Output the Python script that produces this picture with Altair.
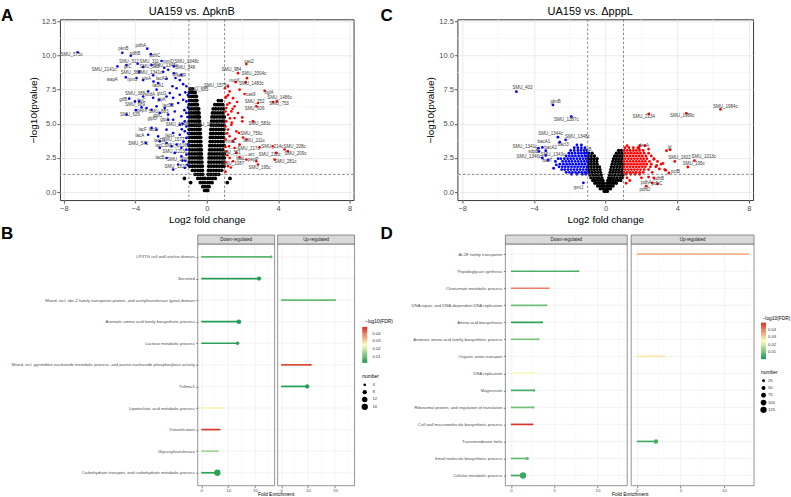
import altair as alt
import pandas as pd

FONT = "Liberation Sans"

# ====================== Panel A : UA159 vs. ΔpknB ======================
A_TITLE = "UA159 vs. \u0394pknB"
A_BLUE = [
    (-7.23, 10.24), (-4.73, 10.2), (-4.25, 9.98), (-3.33, 10.5), (-3.13, 10.1), (-2.53, 9.6),
    (-5.0, 9.2), (-4.5, 9.3), (-3.87, 9.4), (-3.56, 9.15), (-3.09, 9.3), (-2.38, 9.1), (-1.84, 9.2),
    (-2.16, 8.95), (-2.44, 8.8), (-4.53, 8.4), (-3.93, 8.35), (-3.78, 8.8), (-3.56, 8.2), (-3.0, 8.55),
    (-2.98, 8.1), (-2.72, 7.98), (-2.25, 8.3), (-1.84, 8.7), (-1.75, 8.35), (-1.42, 8.6), (-1.51, 8.2),
    (-1.32, 7.9), (-1.14, 7.75), (-1.92, 7.75), (-1.69, 7.6), (-2.07, 7.25), (-2.81, 7.5), (-3.28, 7.37),
    (-3.56, 7.0), (-4.02, 6.64), (-4.34, 6.84), (-3.78, 6.64), (-3.0, 6.9), (-2.66, 6.76), (-2.25, 7.0),
    (-1.88, 6.9), (-1.51, 7.13), (-1.32, 6.76), (-1.14, 6.64), (-1.6, 6.52), (-1.97, 6.4), (-2.35, 6.15),
    (-2.81, 6.28), (-3.09, 6.03), (-3.37, 6.15), (-3.65, 6.2), (-3.97, 6.0), (-4.49, 5.67), (-2.63, 5.8),
    (-2.16, 5.67), (-1.79, 5.9), (-1.42, 5.55), (-1.14, 5.8), (-1.88, 5.3), (-1.23, 5.18), (-1.51, 4.94),
    (-1.14, 4.8), (-2.16, 5.3), (-3.09, 4.7), (-2.81, 4.57), (-2.25, 4.57), (-3.28, 4.2), (-2.72, 4.08),
    (-1.88, 4.33), (-1.51, 4.2), (-1.23, 4.45), (-1.14, 3.97), (-3.41, 3.6), (-2.63, 3.72), (-2.25, 3.6),
    (-1.97, 3.35), (-1.69, 3.48), (-1.42, 3.24), (-1.14, 3.11), (-2.63, 3.24), (-1.79, 2.87), (-1.42, 2.63),
    (-1.14, 2.75), (-2.25, 2.5), (-1.36, 2.31), (-1.6, 2.02), (-1.23, 1.78), (-1.88, 1.65),
    (-1.05, 6.2), (-1.25, 6.0), (-1.08, 5.5), (-1.35, 5.0), (-1.05, 4.3), (-1.3, 3.7), (-1.05, 3.5),
    (-1.2, 2.3), (-1.08, 2.0), (-1.4, 4.6), (-1.06, 7.1), (-1.2, 7.3),
]
A_RED = [
    (2.22, 9.37), (1.75, 8.71), (2.25, 8.34), (1.62, 8.05), (2.18, 8.05), (1.19, 7.74), (1.02, 7.6),
    (1.84, 7.5), (3.24, 7.42), (2.12, 7.18), (1.28, 7.37), (1.1, 7.0), (1.47, 6.88), (3.93, 6.64),
    (3.7, 6.6), (2.87, 6.52), (2.78, 6.28), (1.28, 6.52), (1.56, 6.28), (1.1, 6.15), (1.38, 5.91),
    (1.75, 5.79), (1.19, 5.67), (1.56, 5.42), (1.99, 5.47), (1.99, 5.18), (2.59, 5.18), (1.1, 5.18),
    (1.38, 4.94), (1.19, 4.58), (1.66, 4.45), (1.8, 4.33), (1.28, 4.09), (2.03, 4.0), (1.06, 3.85),
    (2.22, 3.85), (1.47, 3.72), (1.84, 3.48), (1.25, 3.36), (1.56, 3.23), (2.96, 3.28), (3.7, 3.36),
    (4.36, 3.12), (4.54, 2.99), (1.1, 2.99), (1.66, 2.87), (3.89, 2.87), (1.84, 2.55), (1.28, 2.5),
    (2.22, 2.38), (3.8, 2.38), (1.47, 2.26), (2.78, 2.26), (2.87, 2.02), (1.19, 1.9), (1.05, 1.5),
    (1.05, 6.9), (1.15, 6.4), (1.05, 5.9), (1.3, 5.4), (1.05, 4.8), (1.15, 4.3), (1.4, 5.1),
    (1.05, 3.3), (1.15, 2.7), (1.05, 2.2), (1.35, 1.8), (1.6, 3.9), (1.45, 6.1), (1.2, 7.1), (1.7, 6.6),
]
# black (non-significant) points, one row per -log10(p) level: (y, [x, ...])
A_BLACK_ROWS = [
    (0.12, [-0.12, -0.03, 0.06]),
    (0.4, [-0.22, -0.1, 0.02, 0.13]),
    (0.7, [-0.36, -0.23, -0.11, 0.05, 0.17, 0.3, -0.9, 1.15]),
    (1.0, [-0.5, -0.36, -0.22, -0.1, 0.07, 0.2, 0.34, 0.48, -1.25, 1.3]),
    (1.3, [-0.65, -0.5, -0.36, -0.22, 0.08, 0.22, 0.37, 0.52, 0.67]),
    (1.6, [-0.8, -0.65, -0.5, -0.36, -0.24, 0.1, 0.24, 0.39, 0.54, 0.69, 0.84]),
    (1.9, [-0.95, -0.8, -0.65, -0.5, -0.37, -0.25, 0.11, 0.25, 0.4, 0.55, 0.7, 0.85, 0.97]),
    (2.2, [-0.98, -0.83, -0.68, -0.53, -0.4, -0.27, 0.12, 0.26, 0.41, 0.56, 0.71, 0.86, 0.98]),
    (2.5, [-0.97, -0.82, -0.67, -0.52, -0.4, -0.28, 0.13, 0.27, 0.42, 0.57, 0.72, 0.87, 0.98]),
    (2.8, [-0.98, -0.83, -0.68, -0.54, -0.41, -0.3, 0.14, 0.28, 0.43, 0.58, 0.73, 0.88, 0.98]),
    (3.1, [-0.96, -0.81, -0.66, -0.52, -0.4, -0.3, 0.16, 0.3, 0.45, 0.6, 0.75, 0.9]),
    (3.4, [-0.98, -0.83, -0.68, -0.54, -0.42, -0.32, 0.17, 0.31, 0.46, 0.61, 0.76, 0.91, 0.98]),
    (3.7, [-0.97, -0.82, -0.67, -0.53, -0.42, -0.33, 0.19, 0.33, 0.48, 0.63, 0.78, 0.93]),
    (4.0, [-0.98, -0.83, -0.69, -0.55, -0.44, -0.34, 0.2, 0.34, 0.49, 0.64, 0.79, 0.94]),
    (4.3, [-0.97, -0.82, -0.68, -0.55, -0.44, -0.36, 0.22, 0.36, 0.51, 0.66, 0.81, 0.96]),
    (4.6, [-0.98, -0.84, -0.7, -0.57, -0.46, -0.37, 0.23, 0.37, 0.52, 0.67, 0.82, 0.96]),
    (4.9, [-0.97, -0.83, -0.69, -0.57, -0.46, -0.38, 0.25, 0.39, 0.54, 0.69, 0.84, 0.97]),
    (5.2, [-0.98, -0.84, -0.71, -0.59, -0.48, -0.4, 0.27, 0.41, 0.56, 0.71, 0.86, 0.97]),
    (5.5, [-0.97, -0.83, -0.7, -0.58, -0.48, -0.41, 0.29, 0.43, 0.58, 0.73, 0.88, 0.98]),
    (5.8, [-0.98, -0.85, -0.72, -0.6, -0.5, -0.43, 0.32, 0.46, 0.61, 0.76, 0.91]),
    (6.1, [-0.97, -0.84, -0.71, -0.6, -0.5, -0.45, 0.36, 0.5, 0.65, 0.8, 0.94]),
    (6.4, [-0.98, -0.85, -0.73, -0.62, -0.52, 0.45, 0.6, 0.75, 0.9]),
    (6.7, [-0.97, -0.84, -0.72, -0.62, -0.55, 0.65, 0.82]),
    (7.0, [-0.98, -0.86, -0.75, -0.65, -0.58]),
    (7.3, [-0.97, -0.85, -0.74, -0.65]),
    (7.55, [-0.93, -0.8]),
]
A_LABELS = [
    ("SMU_575c", -7.56, 10.0), ("pknB", -4.67, 10.49), ("pdhA", -3.69, 10.73), ("pdhB", -4.02, 10.12),
    ("pdhC", -2.9, 9.93), ("SMU_312", -4.36, 9.56), ("SMU_311", -3.22, 9.56), ("rpmD", -2.16, 9.51),
    ("SMU_1348c", -1.13, 9.56), ("SMU_2141c", -5.74, 8.96), ("glfC", -4.43, 9.15), ("SMU_313", -3.2, 9.15),
    ("SMU_1345c", -2.3, 9.2), ("SMU_348", -1.22, 9.1), ("SMU_367", -4.25, 8.71), ("SMU_1341c", -3.18, 8.71),
    ("wapA", -5.29, 8.22), ("rpmJ", -4.17, 8.18), ("ptsA", -3.37, 8.27), ("lacA2", -2.53, 8.3),
    ("pfl", -1.79, 8.59), ("lacR", -1.41, 8.47), ("lacA1", -2.72, 7.74), ("SMU_388", -4.02, 7.2),
    ("sodA", -3.18, 7.13), ("gtcG", -2.53, 7.18), ("gtfB", -4.67, 6.76), ("fruC", -3.65, 6.64),
    ("glpK", -2.53, 6.76), ("SMU_689", -4.02, 6.4), ("lacD2", -2.16, 6.33), ("pepX", -3.62, 5.96),
    ("SMU_883", -2.7, 5.84), ("SMU_626", -4.3, 5.62), ("glpO", -3.05, 5.38), ("glpA", -2.35, 5.28),
    ("glpC", -2.75, 5.55), ("SMU_1948c", -1.6, 4.89), ("SMU_1611c", -0.02, 4.89), ("lacF", -3.59, 4.53),
    ("lacE", -3.0, 4.53), ("lacA", -3.74, 4.14), ("lacG", -2.07, 4.14), ("SMU_571", -3.84, 3.53),
    ("lacD1", -2.63, 3.72), ("SMU_1577", -1.88, 3.85), ("lacC", -2.63, 3.41), ("SMU_1616c", -1.69, 3.41),
    ("SMU_1213c", -1.79, 2.94), ("lacB", -2.63, 2.5), ("SMU_2007", -1.6, 2.38), ("SMU_1821", -1.73, 1.82),
    ("SMU_685", -0.48, 7.49), ("SMU_1575c", 0.54, 7.74),
    ("cas2", 2.36, 9.49), ("SMU_984", 1.38, 8.96), ("SMU_2004c", 2.64, 8.64), ("nuoX", 1.56, 8.15),
    ("SMU_1483c", 2.5, 7.93), ("bglA", 3.48, 7.25), ("cas9", 2.46, 7.13), ("SMU_1486c", 4.08, 6.88),
    ("SMU_752", 2.68, 6.57), ("SMU_753", 4.04, 6.45), ("SMU_606", 2.68, 6.11), ("SMU_583c", 2.96, 4.99),
    ("SMU_756c", 2.5, 4.26), ("SMU_211c", 2.64, 3.77), ("SMU_217c", 2.35, 3.19), ("SMU_214c", 3.67, 3.31),
    ("SMU_208c", 4.92, 3.31), ("SMU_218c", 3.52, 2.75), ("SMU_209c", 4.97, 2.8), ("SMU_281c", 4.41, 2.19),
    ("SMU_195c", 2.96, 1.77), ("SMU_1087", 1.47, 2.07), ("pepP", 2.59, 2.38), ("fpaL", 1.9, 2.46),
    ("arc", 2.5, 2.7), ("nrdE", 1.34, 3.67), ("SMU_391", 1.34, 2.87),
]
A_LEADERS = [
    (-0.62, 7.72, 0.12, 7.72), (-1.14, 7.75, -0.8, 7.52), (1.25, 3.2, 1.8, 3.2),
    (1.5, 2.7, 2.32, 2.7), (1.3, 2.9, 1.05, 2.88), (-3.41, 3.6, -3.6, 3.55),
]

# ====================== Panel C : UA159 vs. ΔpppL ======================
C_TITLE = "UA159 vs. \u0394pppL"
C_BLUE = [
    (-4.98, 7.35), (-2.94, 6.38), (-1.91, 5.53), (-2.66, 4.02), (-2.23, 3.83), (-2.56, 3.66),
    (-3.53, 3.27), (-3.34, 3.03), (-3.75, 3.22), (-3.72, 2.98), (-3.34, 2.69), (-3.53, 2.5),
    (-3.2, 2.35), (-1.17, 2.86), (-1.24, 0.68), (-2.75, 2.0), (-2.9, 1.75), (-2.65, 2.45), (-2.8, 2.25),
]
C_BLUE_ROWS = [
    (3.45, [-1.6, -1.35]),
    (3.25, [-1.75, -1.55, -1.35, -1.15]),
    (3.05, [-1.95, -1.75, -1.55, -1.38, -1.2, -1.05]),
    (2.85, [-2.05, -1.88, -1.7, -1.52, -1.35, -1.18, -1.03]),
    (2.65, [-2.2, -2.02, -1.85, -1.68, -1.5, -1.33, -1.16, -1.02]),
    (2.45, [-2.5, -2.3, -2.12, -1.95, -1.78, -1.6, -1.43, -1.26, -1.1]),
    (2.25, [-2.4, -2.22, -2.05, -1.88, -1.7, -1.53, -1.36, -1.19, -1.03]),
    (2.05, [-2.55, -2.35, -2.17, -2.0, -1.83, -1.65, -1.48, -1.31, -1.14]),
    (1.85, [-2.6, -2.42, -2.25, -2.08, -1.9, -1.73, -1.56, -1.39, -1.22, -1.05]),
    (1.65, [-2.45, -2.28, -2.1, -1.93, -1.76, -1.59, -1.42, -1.25, -1.08]),
    (1.45, [-2.2, -2.02, -1.85, -1.68, -1.5, -1.33, -1.16, -1.02]),
    (1.3, [-1.9, -1.6, -1.3, -1.1]),
]
C_RED = [
    (2.41, 5.72), (4.51, 5.77), (6.41, 6.06), (1.86, 3.22), (3.4, 3.03), (3.6, 3.1), (3.86, 2.25),
    (4.96, 2.3), (4.59, 1.84), (3.53, 1.4), (2.69, 1.04), (2.6, 0.68), (2.9, 0.6), (2.27, 0.44),
    (2.85, 1.95), (3.0, 1.7), (3.2, 2.1), (3.35, 1.6), (2.7, 2.4), (2.2, 3.4), (2.4, 3.15),
    (1.2, 1.05), (1.35, 0.85), (1.15, 0.65), (2.0, 1.05), (2.4, 1.1),
]
C_RED_ROWS = [
    (3.4, [1.2, 1.9]),
    (3.25, [1.08, 1.3, 1.55, 1.8]),
    (3.05, [1.03, 1.2, 1.37, 1.55, 1.72, 1.9, 2.1]),
    (2.85, [1.1, 1.27, 1.44, 1.61, 1.78, 1.95, 2.15, 2.4]),
    (2.65, [1.03, 1.2, 1.37, 1.54, 1.71, 1.88, 2.05, 2.25, 2.55]),
    (2.45, [1.1, 1.27, 1.44, 1.61, 1.78, 1.95, 2.12, 2.3, 2.7]),
    (2.25, [1.03, 1.2, 1.37, 1.54, 1.71, 1.88, 2.05, 2.22, 2.45, 2.9]),
    (2.05, [1.1, 1.27, 1.44, 1.61, 1.78, 1.95, 2.12, 2.3, 2.55, 3.1]),
    (1.85, [1.03, 1.2, 1.37, 1.54, 1.71, 1.88, 2.05, 2.22, 2.5, 2.8]),
    (1.65, [1.1, 1.27, 1.44, 1.61, 1.78, 1.95, 2.15, 2.4, 3.3]),
    (1.45, [1.03, 1.2, 1.37, 1.54, 1.71, 1.9, 2.1, 2.6]),
    (1.3, [1.15, 1.4, 1.65, 1.9]),
]
C_BLACK_ROWS = [
    (0.05, [-0.08, 0.02, 0.1]),
    (0.25, [-0.3, -0.18, -0.06, 0.06, 0.18, 0.28]),
    (0.45, [-0.45, -0.33, -0.2, -0.08, 0.06, 0.18, 0.3, 0.42]),
    (0.65, [-0.6, -0.46, -0.33, -0.2, -0.08, 0.08, 0.2, 0.33, 0.46, 0.6]),
    (0.85, [-0.72, -0.57, -0.42, -0.28, -0.14, 0.12, 0.26, 0.4, 0.55, 0.7, 0.85]),
    (1.05, [-0.82, -0.66, -0.5, -0.35, -0.2, 0.17, 0.32, 0.47, 0.63, 0.8, 0.95]),
    (1.25, [-0.88, -0.72, -0.56, -0.4, -0.24, 0.21, 0.36, 0.52, 0.68, 0.84, 0.97]),
    (1.45, [-0.92, -0.76, -0.6, -0.44, -0.28, 0.25, 0.4, 0.56, 0.72, 0.88, 0.98]),
    (1.65, [-0.95, -0.79, -0.63, -0.47, -0.31, 0.28, 0.44, 0.6, 0.76, 0.92]),
    (1.85, [-0.97, -0.81, -0.65, -0.49, -0.34, 0.32, 0.48, 0.64, 0.8, 0.96]),
    (2.05, [-0.95, -0.79, -0.63, -0.47, 0.36, 0.52, 0.68, 0.84, 0.98]),
    (2.25, [-0.97, -0.81, -0.65, -0.49, 0.4, 0.56, 0.72, 0.88]),
    (2.45, [-0.95, -0.79, -0.63, -0.47, 0.44, 0.6, 0.76, 0.92]),
    (2.65, [-0.97, -0.8, -0.62, 0.5, 0.66, 0.82, 0.96]),
    (2.85, [-0.93, -0.75, 0.6, 0.76, 0.92]),
    (3.05, [0.72, 0.88]),
]
C_LABELS = [
    ("SMU_403", -4.64, 7.59), ("pknB", -2.79, 6.62), ("SMU_1387c", -2.19, 5.29), ("SMU_1344c", -3.07, 4.24),
    ("SMU_1348c", -1.58, 4.02), ("bacI3", -2.36, 3.47), ("bacA1", -3.44, 3.66), ("bacA2", -3.07, 3.22),
    ("SMU_1341c", -4.5, 3.32), ("sdpB", -4.03, 2.93), ("SMU_1343c", -2.94, 2.74), ("SMU_1346c", -4.28, 2.55),
    ("bacT", -3.25, 2.31), ("sacB", -1.06, 3.11), ("rpmJ", -1.52, 0.27),
    ("SMU_2134", 2.13, 5.48), ("SMU_1989c", 4.28, 5.58), ("SMU_1984c", 6.69, 6.25), ("dexA", 2.13, 3.35),
    ("lrf", 3.57, 3.22), ("SMU_1602", 4.12, 2.49), ("SMU_1013c", 5.48, 2.55), ("SMU_195c", 4.92, 2.06),
    ("pcfB", 3.9, 1.48), ("pdhB", 2.97, 0.97), ("pdhA", 2.27, 0.68), ("pdhC", 2.88, 0.56), ("pdhD", 2.19, 0.15),
]
C_LEADERS = [(-3.75, 3.22, -3.95, 3.3), (-2.23, 3.83, -1.95, 3.95)]

X_TICKS = [-8, -4, 0, 4, 8]
X_MINOR = [-6, -2, 2, 6]
Y_TICKS = [0, 2.5, 5, 7.5, 10, 12.5]
Y_MINOR = [1.25, 3.75, 6.25, 8.75, 11.25]
FC_CUT = [-1, 1]
P_CUT = [1.30103]

# ====================== Panel B : enrichment (ΔpknB) ======================
B_CATS = [
    "LPXTG cell wall anchor domain",
    "Secreted",
    "Mixed, incl. abc-2 family transporter protein, and acetyltransferase (gnat) domain",
    "Aromatic amino acid family biosynthetic process",
    "Lactose metabolic process",
    "Mixed, incl. pyrimidine nucleoside metabolic process, and purine-nucleoside phosphorylase activity",
    "TnSmu1",
    "Lipoteichoic acid metabolic process",
    "Detoxification",
    "Glycosyltransferase",
    "Carbohydrate transport, and carbohydrate metabolic process",
]
B_DOWN_TERMS = [B_CATS[0], B_CATS[1], B_CATS[3], B_CATS[4], B_CATS[7], B_CATS[8], B_CATS[9], B_CATS[10]]
B_DOWN_FE = [26.0, 21.5, 14.0, 13.5, 8.5, 7.0, 6.0, 6.0]
B_DOWN_FDR = [0.009, 0.003, 0.003, 0.004, 0.027, 0.048, 0.016, 0.004]
B_DOWN_N = [4, 8, 9, 6, 2, 2, 3, 16]
B_UP_TERMS = [B_CATS[2], B_CATS[5], B_CATS[6]]
B_UP_FE = [20.0, 11.0, 9.7]
B_UP_FDR = [0.010, 0.046, 0.003]
B_UP_N = [3, 3, 8]

# ====================== Panel D : enrichment (ΔpppL) ======================
D_CATS = [
    "AI-2E family transporter",
    "Peptidoglycan synthesis",
    "Chorismate metabolic process",
    "DNA repair, and DNA-dependent DNA replication",
    "Amino-acid biosynthesis",
    "Aromatic amino acid family biosynthetic process",
    "Organic anion transport",
    "DNA replication",
    "Magnesium",
    "Ribosomal protein, and regulation of translation",
    "Cell wall macromolecule biosynthetic process",
    "Transmembrane helix",
    "Small molecule biosynthetic process",
    "Cellular metabolic process",
]
D_DOWN_TERMS = [D_CATS[1], D_CATS[2], D_CATS[3], D_CATS[4], D_CATS[5], D_CATS[7], D_CATS[8],
                D_CATS[9], D_CATS[10], D_CATS[12], D_CATS[13]]
D_DOWN_FE = [7.8, 4.4, 4.1, 3.6, 3.2, 2.8, 2.7, 2.6, 2.5, 1.9, 1.4]
D_DOWN_FDR = [0.006, 0.040, 0.010, 0.003, 0.011, 0.026, 0.005, 0.010, 0.049, 0.008, 0.004]
D_DOWN_N = [8, 5, 10, 12, 10, 5, 11, 12, 6, 30, 125]
D_UP_TERMS = [D_CATS[0], D_CATS[6], D_CATS[11]]
D_UP_FE = [12.8, 3.2, 2.2]
D_UP_FDR = [0.034, 0.028, 0.005]
D_UP_N = [4, 4, 60]

FDR_TICKS = [0.01, 0.02, 0.03, 0.04]
B_NUM_TICKS = [4, 8, 12, 16]
D_NUM_TICKS = [25, 50, 75, 100, 125]
GRAD_COLORS = ["#1a9850", "#ffffbf", "#d73027"]
B_FDR_DOMAIN = [0.002, 0.0255, 0.049]
D_FDR_DOMAIN = [0.0005, 0.025, 0.0495]


def rows_to_df(rows):
    return pd.DataFrame([(x, y) for y, xs in rows for x in xs], columns=["x", "y"])


def pts_df(pts):
    return pd.DataFrame(pts, columns=["x", "y"])


def one(text):
    return pd.DataFrame({"t": [text]})


def free_text(text, x, y, size, weight="normal", align="center", baseline="middle", color="#000000"):
    return alt.Chart(one(text)).mark_text(fontSize=size, fontWeight=weight, align=align,
                                          baseline=baseline, color=color).encode(
        x=alt.value(x), y=alt.value(y), text="t:N")


def volcano(black, blue, red, labels, leaders, title, letter, xdom, ydom, w, h,
            title_x, letter_x, black_size, col_size, anchor):
    xsc = alt.Scale(domain=xdom, nice=False, zero=False)
    ysc = alt.Scale(domain=ydom, nice=False, zero=False)
    common = dict(grid=True, gridColor="#e6e6e6", gridWidth=0.8, domain=False,
                  tickColor="#333333", tickSize=3, tickWidth=0.8, labelFontSize=7.5,
                  labelColor="#4d4d4d", titleFontSize=10, titleFontWeight="normal",
                  titleColor="#000000")
    xax = alt.Axis(values=X_TICKS, format="d", title="Log2 fold change", labelPadding=1,
                   titlePadding=3, **common)
    yax = alt.Axis(values=Y_TICKS, format=".1f", title="\u2212log10(pvalue)", labelPadding=1,
                   titlePadding=3, **common)

    def X(f):
        return alt.X(f"{f}:Q", scale=xsc, axis=xax)

    def Y(f):
        return alt.Y(f"{f}:Q", scale=ysc, axis=yax)

    layers = [
        alt.Chart(pd.DataFrame({"x": X_MINOR})).mark_rule(color="#f3f3f3", strokeWidth=0.6).encode(x=X("x")),
        alt.Chart(pd.DataFrame({"y": Y_MINOR})).mark_rule(color="#f3f3f3", strokeWidth=0.6).encode(y=Y("y")),
        alt.Chart(black).mark_circle(color="#000000", size=black_size, opacity=1).encode(x=X("x"), y=Y("y")),
        alt.Chart(blue).mark_circle(color="#0000ff", size=col_size, opacity=1).encode(x=X("x"), y=Y("y")),
        alt.Chart(red).mark_circle(color="#ff0000", size=col_size, opacity=1).encode(x=X("x"), y=Y("y")),
        alt.Chart(pd.DataFrame({"x": FC_CUT})).mark_rule(
            color="#555555", strokeDash=[2.5, 2], strokeWidth=0.7).encode(x=X("x")),
        alt.Chart(pd.DataFrame({"y": P_CUT})).mark_rule(
            color="#555555", strokeDash=[2.5, 2], strokeWidth=0.7).encode(y=Y("y")),
        alt.Chart(leaders).mark_rule(color="#666666", strokeWidth=0.4).encode(
            x=X("x1"), y=Y("y1"), x2="x2:Q", y2="y2:Q"),
        alt.Chart(labels).mark_text(fontSize=4.5, color="#3a3a3a").encode(
            x=X("lx"), y=Y("ly"), text="name:N"),
        free_text(title, title_x, -4, 11, "normal", "center", "alphabetic"),
        free_text(letter, letter_x, 2, 17, "bold", "left", "alphabetic"),
    ]
    if anchor:
        layers.append(alt.Chart(one("")).mark_rect(opacity=0).encode(
            x=alt.value(-59), x2=alt.value(-58), y=alt.value(-18), y2=alt.value(-17)))
    return alt.layer(*layers).properties(
        width=w, height=h, view=alt.ViewBackground(fill="white", stroke="#3a3a3a", strokeWidth=1))


def legend_layers(fdr_dom, sscale, grad_x, grad_top, grad_len, title_y, lab_x,
                  num_title_y, num_x, num_vals, num_top, num_bottom, right_edge):
    """Colour-bar and size key drawn with marks; positions come from their own scales."""
    grad = alt.LinearGradient(
        gradient="linear", x1=0, x2=0, y1=0, y2=1,
        stops=[alt.GradientStop(offset=0, color=GRAD_COLORS[2]),
               alt.GradientStop(offset=0.5, color=GRAD_COLORS[1]),
               alt.GradientStop(offset=1, color=GRAD_COLORS[0])])
    bar = alt.Chart(one("bar")).mark_rect(fill=grad, strokeWidth=0).encode(
        x=alt.value(grad_x), x2=alt.value(grad_x + 5),
        y=alt.value(grad_top), y2=alt.value(grad_top + grad_len))
    fy = alt.Scale(domain=[fdr_dom[0], fdr_dom[-1]], range=[grad_top + grad_len, grad_top],
                   nice=False, zero=False)
    fdf = pd.DataFrame({"v": FDR_TICKS})
    flab = alt.Chart(fdf).mark_text(fontSize=4.2, align="left", baseline="middle", color="#333333").encode(
        x=alt.value(lab_x), y=alt.Y("v:Q", scale=fy, axis=None), text=alt.Text("v:Q", format=".2f"))
    ftick_l = alt.Chart(fdf).mark_rule(color="white", strokeWidth=0.5).encode(
        x=alt.value(grad_x), x2=alt.value(grad_x + 1), y=alt.Y("v:Q", scale=fy, axis=None))
    ftick_r = alt.Chart(fdf).mark_rule(color="white", strokeWidth=0.5).encode(
        x=alt.value(grad_x + 4), x2=alt.value(grad_x + 5), y=alt.Y("v:Q", scale=fy, axis=None))
    ny = alt.Scale(domain=[num_vals[0], num_vals[-1]], range=[num_top, num_bottom], nice=False, zero=False)
    ndf = pd.DataFrame({"n": num_vals})
    ncirc = alt.Chart(ndf).mark_circle(color="#000000", opacity=1).encode(
        x=alt.value(num_x), y=alt.Y("n:Q", scale=ny, axis=None),
        size=alt.Size("n:Q", scale=sscale, legend=None))
    nlab = alt.Chart(ndf).mark_text(fontSize=4.2, align="left", baseline="middle", color="#333333").encode(
        x=alt.value(lab_x), y=alt.Y("n:Q", scale=ny, axis=None), text=alt.Text("n:Q", format="d"))
    ttl1 = free_text("\u2212log10(FDR)", right_edge, title_y, 4.9, "normal", "right", "alphabetic")
    ttl2 = free_text("number", grad_x, num_title_y, 4.9, "normal", "left", "alphabetic")
    return [bar, ftick_l, ftick_r, flab, ncirc, nlab, ttl1, ttl2]


def enrich(cats, down, up, w, h, d_range, u_range, xdom, xvals, xminor, axis_x,
           cscale, sscale, extras):
    ysc = alt.Scale(type="point", domain=cats, padding=0.6)
    yax_on = alt.Axis(title=None, offset=-axis_x, labelFontSize=4.2, labelColor="#4d4d4d",
                      labelPadding=1.5, tickSize=2, tickColor="#333333", tickWidth=0.6, grid=False,
                      domain=False, labelLimit=400)

    def panel(data, rng, strip, show_axis):
        terms, fe, fdr, num = data
        df = pd.DataFrame({"term": terms, "fe": fe, "fdr": fdr, "n": num})
        df["zero"] = 0.0
        Y = alt.Y("term:N", scale=ysc, axis=yax_on if show_axis else None)
        xsc = alt.Scale(domain=xdom, range=rng, nice=False, zero=False)
        xax = alt.Axis(title=None, values=xvals, format="d", orient="bottom", labelFontSize=4.4,
                       labelColor="#4d4d4d", tickSize=2, tickColor="#333333", tickWidth=0.6,
                       labelPadding=0.5, grid=True, gridColor="#ebebeb", gridWidth=0.6, domain=False)

        def X(f):
            return alt.X(f"{f}:Q", scale=xsc, axis=xax)

        color = alt.Color("fdr:Q", scale=cscale, legend=None)
        size = alt.Size("n:Q", scale=sscale, legend=None)
        frame = pd.DataFrame({"lo": [xdom[0]], "hi": [xdom[1]],
                              "mid": [(xdom[0] + xdom[1]) / 2], "t": [strip]})
        hgrid = pd.DataFrame({"term": cats, "lo": xdom[0], "hi": xdom[1]})
        return alt.layer(
            alt.Chart(pd.DataFrame({"fe": xminor})).mark_rule(color="#f5f5f5", strokeWidth=0.5).encode(x=X("fe")),
            alt.Chart(hgrid).mark_rule(color="#ebebeb", strokeWidth=0.6).encode(x=X("lo"), x2="hi:Q", y=Y),
            alt.Chart(df).mark_rule(strokeWidth=1.7).encode(x=X("zero"), x2="fe:Q", y=Y, color=color),
            alt.Chart(df).mark_circle(opacity=1).encode(x=X("fe"), y=Y, color=color, size=size),
            alt.Chart(frame).mark_rect(fill="transparent", stroke="#666666", strokeWidth=0.7).encode(
                x=X("lo"), x2="hi:Q", y=alt.value(0), y2=alt.value(h)),
            alt.Chart(frame).mark_rect(fill="#d9d9d9", stroke="#4d4d4d", strokeWidth=0.6).encode(
                x=X("lo"), x2="hi:Q", y=alt.value(-9), y2=alt.value(0)),
            alt.Chart(frame).mark_text(fontSize=4.5, color="#1a1a1a").encode(
                x=X("mid"), y=alt.value(-4.5), text="t:N"),
        )

    return alt.layer(panel(down, d_range, "Down-regulated", True),
                     panel(up, u_range, "Up-regulated", False),
                     *extras).resolve_scale(x="independent", y="independent").properties(
        width=w, height=h, view=alt.ViewBackground(fill="white", stroke="transparent"))


# ---------------- volcano panels ----------------
A = volcano(rows_to_df(A_BLACK_ROWS), pts_df(A_BLUE), pts_df(A_RED),
            pd.DataFrame(A_LABELS, columns=["name", "lx", "ly"]),
            pd.DataFrame(A_LEADERS, columns=["x1", "y1", "x2", "y2"]),
            A_TITLE, "A", [-8.22, 8.22], [-0.58, 12.65], 294, 181, 132, -59, 14, 7, True)
C = volcano(rows_to_df(C_BLACK_ROWS),
            pd.concat([pts_df(C_BLUE), rows_to_df(C_BLUE_ROWS)], ignore_index=True),
            pd.concat([pts_df(C_RED), rows_to_df(C_RED_ROWS)], ignore_index=True),
            pd.DataFrame(C_LABELS, columns=["name", "lx", "ly"]),
            pd.DataFrame(C_LEADERS, columns=["x1", "y1", "x2", "y2"]),
            C_TITLE, "C", [-8.27, 8.23], [-0.58, 12.65], 296, 181, 133, -77, 11, 8, False)

# ---------------- enrichment panels ----------------
B_sscale = alt.Scale(domain=[2, 16], range=[2, 40])
B = enrich(B_CATS, (B_DOWN_TERMS, B_DOWN_FE, B_DOWN_FDR, B_DOWN_N),
           (B_UP_TERMS, B_UP_FE, B_UP_FDR, B_UP_N), 295, 242, [138, 215], [218, 295],
           [-1.3, 27.3], [0, 10, 20], [5, 15, 25], 138,
           alt.Scale(domain=B_FDR_DOMAIN, range=GRAD_COLORS, interpolate="rgb"), B_sscale,
           legend_layers(B_FDR_DOMAIN, B_sscale, 302.7, 83, 36, 79, 313, 134.5, 305.2,
                         B_NUM_TICKS, 141, 163, 333.5)
           + [free_text("B", -59, -5, 17, "bold", "left", "alphabetic"),
              free_text("Fold Enrichment", 216.5, 253.8, 5, "normal", "center", "bottom")])
D_sscale = alt.Scale(domain=[4, 125], range=[2, 40])
D = enrich(D_CATS, (D_DOWN_TERMS, D_DOWN_FE, D_DOWN_FDR, D_DOWN_N),
           (D_UP_TERMS, D_UP_FE, D_UP_FDR, D_UP_N), 297, 242, [48, 170], [174, 297],
           [-0.64, 13.44], [0, 5, 10], [2.5, 7.5, 12.5], 48,
           alt.Scale(domain=D_FDR_DOMAIN, range=GRAD_COLORS, interpolate="rgb"), D_sscale,
           legend_layers(D_FDR_DOMAIN, D_sscale, 304, 78.7, 36.6, 76, 311, 130.5, 306.5,
                         D_NUM_TICKS, 137, 166, 333.5)
           + [free_text("D", -77, -5, 17, "bold", "left", "alphabetic"),
              free_text("Fold Enrichment", 173, 253.8, 5, "normal", "center", "bottom")])

chart = alt.concat(A, C, B, D, columns=2, spacing={"row": 44, "column": 103}, bounds="flush",
                   align="each", padding={"left": 0, "top": 0, "right": 0, "bottom": 0}
                   ).resolve_scale(color="independent", size="independent"
                   ).configure(font=FONT, background="white")

chart.save("out.html", embed_options={"renderer": "svg", "actions": False})
